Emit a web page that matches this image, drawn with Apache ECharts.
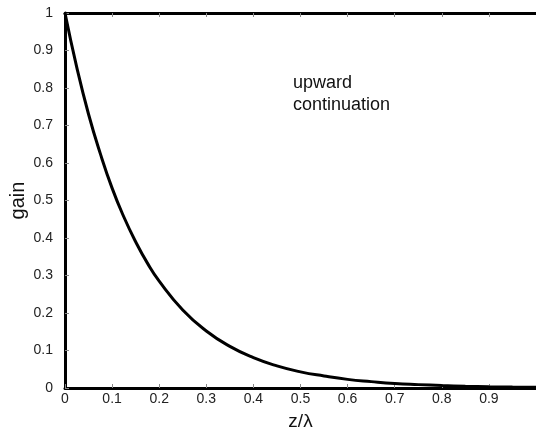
<!DOCTYPE html>
<html><head><meta charset="utf-8">
<script src="https://cdn.jsdelivr.net/npm/echarts@6/dist/echarts.min.js"></script>
<style>html,body{margin:0;padding:0;background:#fff}#c{width:536px;height:432px}</style>
</head><body><div id="c"></div>
<script>
const xValues = [0, 0.025, 0.05, 0.075, 0.1, 0.125, 0.15, 0.175, 0.2, 0.25, 0.3, 0.35, 0.4, 0.45, 0.5, 0.55, 0.6, 0.65, 0.7, 0.75, 0.8, 0.85, 0.9, 0.95, 1.0];
const gainValues = [1.0, 0.855, 0.73, 0.625, 0.533, 0.456, 0.39, 0.333, 0.285, 0.208, 0.152, 0.111, 0.081, 0.059, 0.043, 0.032, 0.023, 0.017, 0.012, 0.009, 0.0066, 0.0048, 0.0035, 0.0026, 0.0019];
const xTickLabels = ['0', '0.1', '0.2', '0.3', '0.4', '0.5', '0.6', '0.7', '0.8', '0.9', ''];
const yTickLabels = ['0', '0.1', '0.2', '0.3', '0.4', '0.5', '0.6', '0.7', '0.8', '0.9', '1'];
const xAxisTitle = 'z/λ';
const yAxisTitle = 'gain';
const annotationLines = ['upward', 'continuation'];

const font = 'Liberation Sans, Arial, Helvetica, sans-serif';
const chart = echarts.init(document.getElementById('c'), null, {renderer: 'canvas'});
const axisLine = {show: true, onZero: false, lineStyle: {color: '#000', width: 3}};
const tick = {show: true, inside: true, length: 4, lineStyle: {color: '#888', width: 1}};
chart.setOption({
  animation: false,
  grid: {left: 65, right: 0, top: 13, bottom: 44, containLabel: false, outerBoundsMode: 'none'},
  xAxis: [{
    type: 'value', min: 0, max: 1, interval: 0.1, position: 'bottom',
    axisLine, axisTick: tick, splitLine: {show: false},
    axisLabel: {color: '#222', fontSize: 14, fontFamily: font, margin: 4,
      formatter: v => xTickLabels[Math.round(v * 10)]},
    name: xAxisTitle, nameLocation: 'middle', nameGap: 24, nameMoveOverlap: false,
    nameTextStyle: {color: '#111', fontSize: 19, fontFamily: font}
  }, {
    type: 'value', min: 0, max: 1, interval: 0.1, position: 'top',
    axisLine, axisTick: tick, axisLabel: {show: false}, splitLine: {show: false}
  }],
  yAxis: [{
    type: 'value', min: 0, max: 1, interval: 0.1, position: 'left',
    axisLine, axisTick: tick, splitLine: {show: false},
    axisLabel: {color: '#222', fontSize: 14, fontFamily: font, margin: 12,
      formatter: v => yTickLabels[Math.round(v * 10)]},
    name: yAxisTitle, nameLocation: 'middle', nameGap: 37, nameRotate: 90, nameMoveOverlap: false,
    nameTextStyle: {color: '#111', fontSize: 20, fontFamily: font}
  }],
  graphic: [{
    type: 'text', left: 293, top: 72,
    style: {text: annotationLines.join('\n'), fill: '#111', font: '18px ' + font, lineHeight: 22}
  }],
  series: [{
    type: 'line', smooth: true, showSymbol: false,
    data: xValues.map((x, i) => [x, gainValues[i]]),
    lineStyle: {color: '#000', width: 3}
  }]
});
</script></body></html>
